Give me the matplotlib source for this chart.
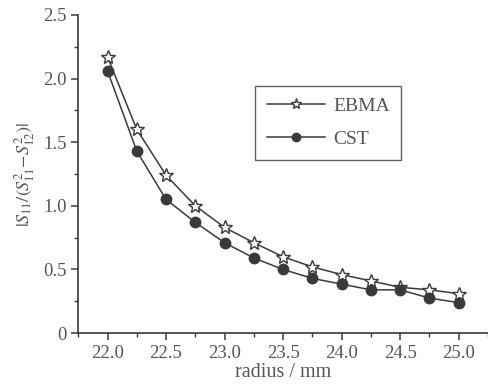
import matplotlib
matplotlib.use("Agg")
from matplotlib import pyplot as plt
from matplotlib.ticker import MultipleLocator

plt.rcParams['font.family'] = ['Liberation Serif', 'DejaVu Serif']
plt.rcParams['mathtext.fontset'] = 'stix'

radius = [22.0, 22.25, 22.5, 22.75, 23.0, 23.25, 23.5, 23.75, 24.0, 24.25, 24.5, 24.75, 25.0]
ebma = [2.17, 1.60, 1.24, 1.00, 0.83, 0.71, 0.60, 0.52, 0.46, 0.41, 0.36, 0.34, 0.31]
cst = [2.06, 1.43, 1.05, 0.87, 0.71, 0.59, 0.50, 0.43, 0.385, 0.34, 0.34, 0.275, 0.24]

ink = '#3a3a3a'
txt = '#555555'

fig = plt.figure(figsize=(4.89, 3.91), dpi=100)
ax = fig.add_axes([0.16, 0.148, 0.838, 0.814])

ax.plot(radius, ebma, '-', color=ink, lw=1.1, marker='*', ms=10,
        mfc='white', mec=ink, mew=1.0, label='EBMA')
ax.plot(radius, cst, '-', color=ink, lw=1.1, marker='o', ms=7.5,
        mfc=ink, mec=ink, label='CST')

ax.set_xlim(21.75, 25.25)
ax.set_ylim(0, 2.5)
ax.xaxis.set_minor_locator(MultipleLocator(0.25))
ax.yaxis.set_minor_locator(MultipleLocator(0.25))
ax.set_xticks([22.0, 22.5, 23.0, 23.5, 24.0, 24.5, 25.0])
ax.set_xticklabels(['22.0', '22.5', '23.0', '23.5', '24.0', '24.5', '25.0'])
ax.set_yticks([0, 0.5, 1.0, 1.5, 2.0, 2.5])
ax.set_yticklabels(['0', '0.5', '1.0', '1.5', '2.0', '2.5'])

for s in ['top', 'right']:
    ax.spines[s].set_visible(False)
for s in ['left', 'bottom']:
    ax.spines[s].set_color(ink)
    ax.spines[s].set_linewidth(1.2)
ax.tick_params(which='major', direction='out', length=5, width=1.1, color=ink,
               labelcolor=txt, labelsize=13.5)
ax.tick_params(which='minor', direction='out', length=3, width=1.0, color=ink)

ax.set_xlabel('radius / mm', color=txt, fontsize=14.5, labelpad=1)
ax.set_ylabel(r'$|S_{11}/(S^2_{11}\!-\!S^2_{12})|$', color=txt, fontsize=13, labelpad=4)

leg = ax.legend(loc='upper left', bbox_to_anchor=(0.432, 0.777), fontsize=14,
                frameon=True, fancybox=False, edgecolor=ink, handlelength=3.0,
                borderpad=0.6, labelspacing=0.8, handletextpad=0.4,
                borderaxespad=0, markerscale=0.8)
leg.get_frame().set_linewidth(1.0)
for t in leg.get_texts():
    t.set_color(txt)

plt.savefig("out.png", dpi=100)
